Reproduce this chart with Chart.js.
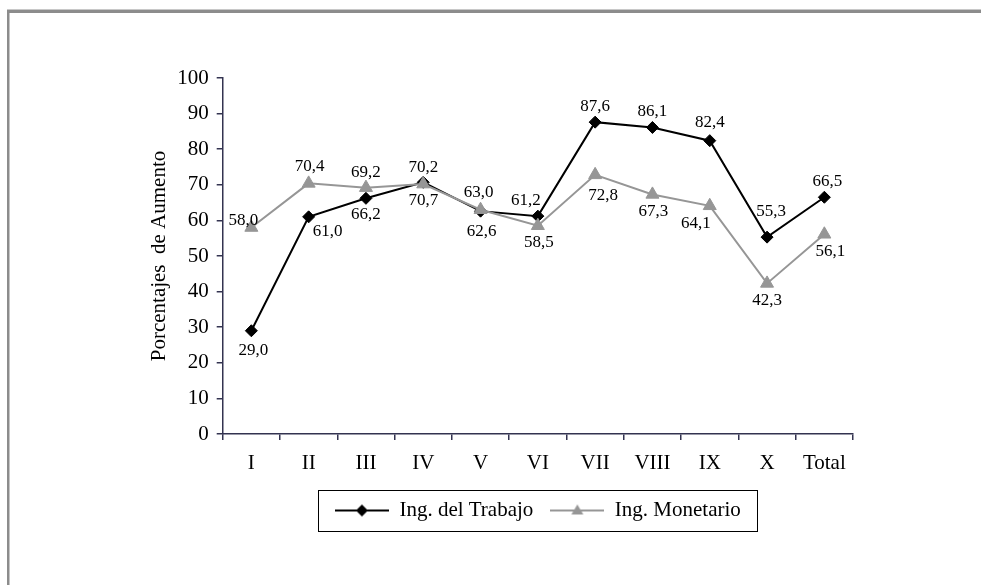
<!DOCTYPE html>
<html>
<head>
<meta charset="UTF-8"/>
<title>Porcentajes de Aumento</title>
<script src="https://cdn.jsdelivr.net/npm/chart.js@4.4.1/dist/chart.umd.min.js"></script>
<style>
    html, body { margin: 0; padding: 0; background: #fff; }
</style>
</head>
<body>
<canvas id="chart" width="981" height="585"></canvas>
<script>
// regiones y totales
const regiones = ['I', 'II', 'III', 'IV', 'V', 'VI', 'VII', 'VIII', 'IX', 'X', 'Total'];
const ingTrabajo = [29.0, 61.0, 66.2, 70.7, 62.6, 61.2, 87.6, 86.1, 82.4, 55.3, 66.5];
const ingMonetario = [58.0, 70.4, 69.2, 70.2, 63.0, 58.5, 72.8, 67.3, 64.1, 42.3, 56.1];
const yTicks = [0, 10, 20, 30, 40, 50, 60, 70, 80, 90, 100];

const FONT = 'Liberation Serif';
const GRIS = '#969696';
const EJE = '#333350';

// where each value label sits relative to its marker [dx, dy]
const posTrabajo = [[2,20],[19,15],[0,16],[0,18],[1,20],[-12,-16],[0,-16],[0,-16],[0,-18],[4,-26],[3,-16]];
const posMonetario = [[-8,-7],[1,-17],[0,-15],[0,-17],[-2,-17],[1,17],[8,21],[1,17],[-14,18],[0,17],[6,17]];

// small line+marker swatch for the legend
function muestra(color, forma) {
    const c = document.createElement('canvas');
    c.width = 54; c.height = 16;
    const g = c.getContext('2d');
    g.strokeStyle = color; g.fillStyle = color; g.lineWidth = 2;
    g.beginPath(); g.moveTo(0, 8); g.lineTo(54, 8); g.stroke();
    g.beginPath();
    if (forma === 'diamante') {
        g.moveTo(27, 2); g.lineTo(33, 8); g.lineTo(27, 14); g.lineTo(21, 8);
    } else {
        g.moveTo(27, 2); g.lineTo(33, 12); g.lineTo(21, 12);
    }
    g.closePath(); g.fill();
    return c;
}
const simbolos = [muestra('#000', 'diamante'), muestra(GRIS, 'triangulo')];

const marco = {
    id: 'marco',
    beforeDraw(chart) {
        const ctx = chart.ctx;
        ctx.save();
        ctx.fillStyle = '#fff';
        ctx.fillRect(0, 0, chart.width, chart.height);
        ctx.fillStyle = '#c8c8c8';
        ctx.fillRect(7, 9, chart.width, 1);
        ctx.fillStyle = '#8c8c8c';
        ctx.fillRect(7, 10, chart.width, 3);
        ctx.fillRect(7, 10, 2.5, chart.height);
        ctx.restore();
    },
    afterDraw(chart) {
        // box round the legend
        const hb = chart.legend.legendHitBoxes;
        if (!hb || !hb.length) return;
        const first = hb[0], last = hb[hb.length - 1];
        const cy = first.top + first.height / 2;
        const ctx = chart.ctx;
        ctx.save();
        ctx.strokeStyle = '#000';
        ctx.lineWidth = 1;
        const l = Math.round(first.left - 17) + 0.5;
        const r = Math.round(last.left + last.width + 16) + 0.5;
        const t = Math.round(cy - 21) + 0.5;
        const b = Math.round(cy + 20) + 0.5;
        ctx.strokeRect(l, t, r - l, b - t);
        ctx.restore();
    }
};

const etiquetas = {
    id: 'etiquetas',
    afterDatasetsDraw(chart) {
        const ctx = chart.ctx;
        const pos = [posTrabajo, posMonetario];
        ctx.save();
        ctx.font = '17px "' + FONT + '"';
        ctx.fillStyle = '#000';
        ctx.textAlign = 'center';
        ctx.textBaseline = 'middle';
        chart.data.datasets.forEach((ds, i) => {
            chart.getDatasetMeta(i).data.forEach((pt, j) => {
                const txt = ds.data[j].toFixed(1).replace('.', ',');
                ctx.fillText(txt, pt.x + pos[i][j][0], pt.y + pos[i][j][1]);
            });
        });
        ctx.restore();
    }
};

const ctx = document.getElementById('chart').getContext('2d');
new Chart(ctx, {
    type: 'line',
    data: {
        labels: regiones,
        datasets: [{
            label: 'Ing. del Trabajo',
            data: ingTrabajo,
            borderColor: '#000',
            backgroundColor: '#000',
            borderWidth: 2,
            pointStyle: 'rectRot',
            pointRadius: 6,
            pointBorderWidth: 1,
            order: 1
        }, {
            label: 'Ing. Monetario',
            data: ingMonetario,
            borderColor: GRIS,
            backgroundColor: GRIS,
            borderWidth: 2,
            pointStyle: 'triangle',
            pointRadius: 7.5,
            pointBorderWidth: 1,
            order: 0
        }]
    },
    options: {
        responsive: false,
        animation: false,
        devicePixelRatio: 1,
        layout: { padding: { left: 147, top: 78, right: 128, bottom: 54 } },
        scales: {
            x: {
                offset: true,
                grid: { offset: true, drawOnChartArea: false, tickLength: 6, color: EJE, lineWidth: 1.5 },
                border: { color: EJE, width: 1.5 },
                ticks: { color: '#000', font: { family: FONT, size: 21 }, padding: 11, maxRotation: 0, autoSkip: false },
                afterFit(s) { s.height = 49; }
            },
            y: {
                min: 0,
                max: 100,
                afterBuildTicks(s) { s.ticks = yTicks.map(v => ({ value: v })); },
                grid: { drawOnChartArea: false, tickLength: 6, color: EJE, lineWidth: 1.5 },
                border: { color: EJE, width: 1.5 },
                ticks: { color: '#000', font: { family: FONT, size: 21 }, padding: 8 },
                title: {
                    display: true,
                    text: 'Porcentajes  de Aumento',
                    color: '#000',
                    font: { family: FONT, size: 21 },
                    padding: 0
                },
                afterFit(s) { s.width = 75.7; }
            }
        },
        plugins: {
            tooltip: { enabled: false },
            legend: {
                position: 'bottom',
                fullSize: false,
                labels: {
                    usePointStyle: true,
                    pointStyleWidth: 54,
                    padding: 17,
                    color: '#000',
                    font: { family: FONT, size: 21 },
                    generateLabels(chart) {
                        return chart.data.datasets.map((ds, i) => ({
                            text: ds.label,
                            pointStyle: simbolos[i],
                            fillStyle: ds.borderColor,
                            strokeStyle: ds.borderColor,
                            lineWidth: 0,
                            fontColor: '#000',
                            hidden: false,
                            datasetIndex: i
                        }));
                    }
                }
            }
        }
    },
    plugins: [marco, etiquetas]
});
</script>
</body>
</html>
